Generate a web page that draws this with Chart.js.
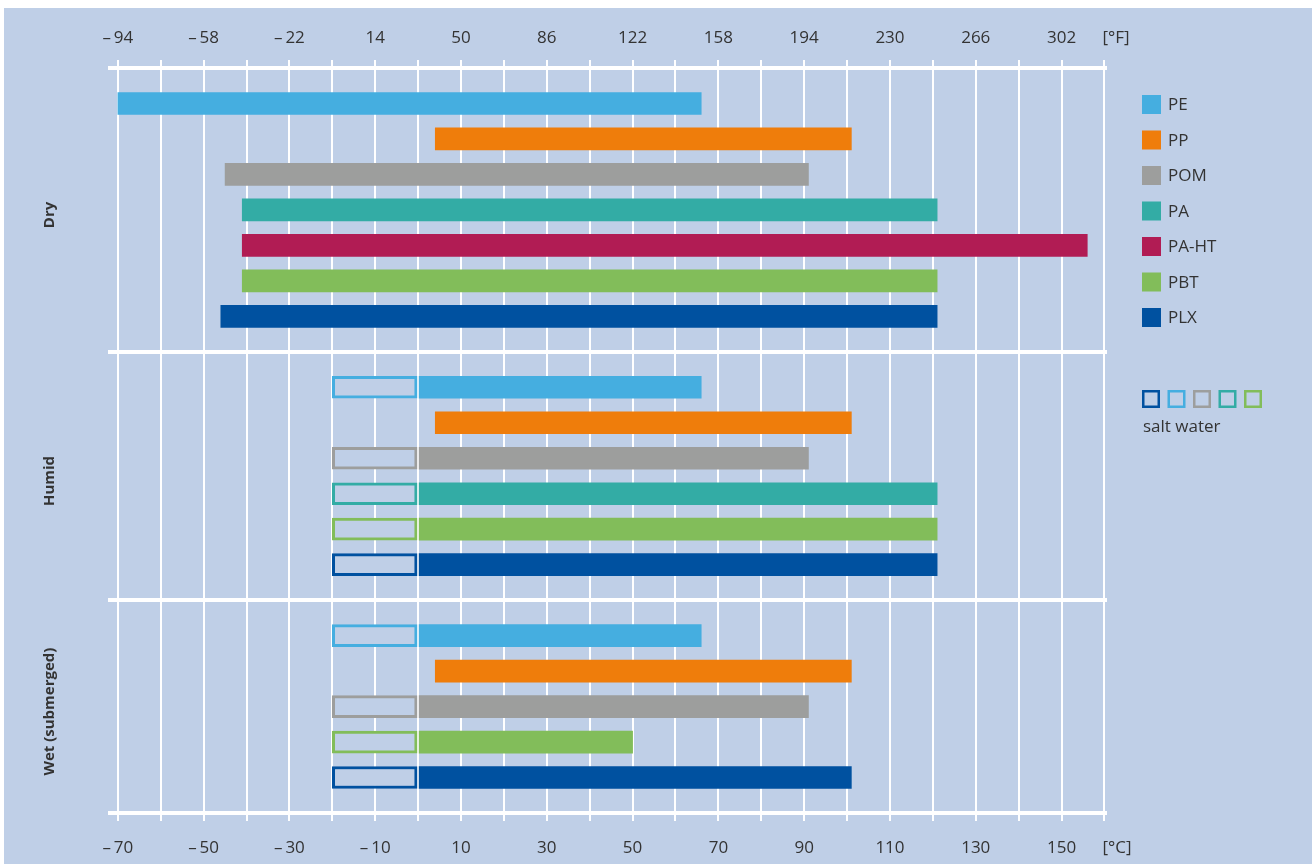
<!DOCTYPE html>
<html lang="en">
<head>
    <meta charset="UTF-8">
    <title>Operating temperature ranges</title>
    <script src="https://cdn.jsdelivr.net/npm/chart.js"></script>
    <style>
        html, body {
            margin: 0;
            padding: 0;
            background-color: #fff;
        }
        #wrap {
            position: absolute;
            left: 4px;
            top: 8px;
            width: 1308px;
            height: 856px;
            background-color: #bfcfe7;
        }
    </style>
</head>
<body>
    <div id="wrap"><canvas id="tempChart" width="1308" height="856"></canvas></div>

    <script>
        // Materials and their colours
        const materials = ['PE', 'PP', 'POM', 'PA', 'PA-HT', 'PBT', 'PLX'];
        const colors = ['#45aee0', '#ef7d0b', '#9d9e9d', '#33aca5', '#b11c54', '#82bd5a', '#0051a0'];

        // Temperature ranges in °C, one list per condition
        const dryMaterials = ['PE', 'PP', 'POM', 'PA', 'PA-HT', 'PBT', 'PLX'];
        const dryMin = [-70, 4, -45, -41, -41, -41, -46];
        const dryMax = [66, 101, 91, 121, 156, 121, 121];

        const humidMaterials = ['PE', 'PP', 'POM', 'PA', 'PBT', 'PLX'];
        const humidMin = [0, 4, 0, 0, 0, 0];
        const humidMax = [66, 101, 91, 121, 121, 121];
        const humidSaltMin = [-20, null, -20, -20, -20, -20];

        const wetMaterials = ['PE', 'PP', 'POM', 'PBT', 'PLX'];
        const wetMin = [0, 4, 0, 0, 0];
        const wetMax = [66, 101, 91, 50, 101];
        const wetSaltMin = [-20, null, -20, -20, -20];

        // salt water extension ends where the normal range starts
        const saltMax = 0;

        // Axis ticks
        const gridValues = [-70, -60, -50, -40, -30, -20, -10, 0, 10, 20, 30, 40, 50, 60, 70, 80, 90, 100, 110, 120, 130, 140, 150, 160];
        const celsiusLabels = [-70, -50, -30, -10, 10, 30, 50, 70, 90, 110, 130, 150];
        const fahrenheitLabels = [-94, -58, -22, 14, 50, 86, 122, 158, 194, 230, 266, 302];
        const saltLegendOrder = ['PLX', 'PE', 'POM', 'PA', 'PBT'];

        const bgColor = '#bfcfe7';
        const textColor = '#333';

        const groups = [
            { name: 'Dry', materials: dryMaterials, min: dryMin, max: dryMax, salt: [] },
            { name: 'Humid', materials: humidMaterials, min: humidMin, max: humidMax, salt: humidSaltMin },
            { name: 'Wet (submerged)', materials: wetMaterials, min: wetMin, max: wetMax, salt: wetSaltMin }
        ];

        // One category row per bar, with an empty row at every divider line
        const rowLabels = [''];
        groups.forEach(g => {
            g.first = rowLabels.length;
            g.materials.forEach(m => rowLabels.push(g.name + ' ' + m));
            g.last = rowLabels.length - 1;
            rowLabels.push('');
        });

        function emptyRows() {
            return rowLabels.map(() => null);
        }

        const solidSets = materials.map((m, i) => {
            const data = emptyRows();
            groups.forEach(g => {
                const k = g.materials.indexOf(m);
                if (k >= 0) data[g.first + k] = [g.min[k], g.max[k]];
            });
            return { label: m, data, backgroundColor: colors[i], borderWidth: 0 };
        });

        const saltSets = materials.map((m, i) => {
            const data = emptyRows();
            groups.forEach(g => {
                const k = g.materials.indexOf(m);
                if (k >= 0 && g.salt[k] != null) data[g.first + k] = [g.salt[k], saltMax];
            });
            return {
                label: m + ' salt water',
                data,
                backgroundColor: bgColor,
                borderColor: colors[i],
                borderWidth: 3,
                borderSkipped: false
            };
        });

        function fmt(v) {
            return v < 0 ? '\u2013\u2009' + Math.abs(v) : String(v);
        }

        // Unit labels, condition names and the legend
        const decorations = {
            id: 'decorations',
            afterDraw(chart) {
                const { ctx, chartArea, scales } = chart;
                ctx.save();
                ctx.fillStyle = textColor;
                ctx.textBaseline = 'middle';

                ctx.font = '17px "Open Sans"';
                ctx.textAlign = 'left';
                const ux = scales.x.getPixelForValue(160) - 2;
                ctx.fillText('[°F]', ux, chartArea.top - 30);
                ctx.fillText('[°C]', ux, chartArea.bottom + 35);

                ctx.font = 'bold 15px "Open Sans"';
                ctx.textAlign = 'center';
                groups.forEach(g => {
                    const y = (scales.y.getPixelForValue(g.first) + scales.y.getPixelForValue(g.last)) / 2;
                    ctx.save();
                    ctx.translate(46, y + 5);
                    ctx.rotate(-Math.PI / 2);
                    ctx.fillText(g.name, 0, 0);
                    ctx.restore();
                });

                // solid entries
                ctx.font = '17px "Open Sans"';
                ctx.textAlign = 'left';
                materials.forEach((m, i) => {
                    const cy = 96.5 + i * 35.5;
                    ctx.fillStyle = colors[i];
                    ctx.fillRect(1138, cy - 9.5, 19, 19);
                    ctx.fillStyle = textColor;
                    ctx.fillText(m, 1164, cy + 1);
                });

                // salt water entries
                ctx.lineWidth = 2.5;
                saltLegendOrder.forEach((m, i) => {
                    const x = 1138 + i * 25.5;
                    ctx.strokeStyle = colors[materials.indexOf(m)];
                    ctx.strokeRect(x + 1.25, 382 + 1.25, 15.5, 15.5);
                });
                ctx.fillStyle = textColor;
                ctx.fillText('salt water', 1139, 419);
                ctx.restore();
            }
        };

        Chart.defaults.font.family = '"Open Sans", sans-serif';

        const sharedX = {
            type: 'linear',
            min: -72.3,
            max: 160.6,
            afterBuildTicks: axis => { axis.ticks = gridValues.map(v => ({ value: v })); },
            border: { display: false }
        };

        new Chart(document.getElementById('tempChart'), {
            type: 'bar',
            data: {
                labels: rowLabels,
                datasets: [...saltSets, ...solidSets]
            },
            options: {
                indexAxis: 'y',
                responsive: false,
                animation: false,
                layout: { padding: { left: 104, right: 205, top: 0, bottom: 0 } },
                datasets: { bar: { grouped: false, barThickness: 22 } },
                plugins: {
                    legend: { display: false },
                    tooltip: { enabled: false }
                },
                scales: {
                    y: {
                        type: 'category',
                        offset: false,
                        afterFit: axis => { axis.width = 0; },
                        ticks: { display: false },
                        border: { display: false },
                        grid: {
                            offset: false,
                            drawTicks: false,
                            lineWidth: 4,
                            color: c => rowLabels[c.index] === '' ? '#fff' : 'rgba(0,0,0,0)'
                        }
                    },
                    x: {
                        ...sharedX,
                        position: 'bottom',
                        afterFit: axis => { axis.height = 51; },
                        ticks: {
                            autoSkip: false,
                            maxRotation: 0,
                            minRotation: 0,
                            padding: 17,
                            color: textColor,
                            font: { size: 17 },
                            callback: v => {
                                const k = celsiusLabels.indexOf(v);
                                return k < 0 ? '' : fmt(celsiusLabels[k]);
                            }
                        },
                        grid: { color: '#fff', lineWidth: 2, tickLength: 8 }
                    },
                    x2: {
                        ...sharedX,
                        position: 'top',
                        afterFit: axis => { axis.height = 60; },
                        ticks: {
                            autoSkip: false,
                            maxRotation: 0,
                            minRotation: 0,
                            padding: 12,
                            color: textColor,
                            font: { size: 17 },
                            callback: v => {
                                const k = celsiusLabels.indexOf(v);
                                return k < 0 ? '' : fmt(fahrenheitLabels[k]);
                            }
                        },
                        grid: { color: '#fff', lineWidth: 2, tickLength: 8, drawOnChartArea: false }
                    }
                }
            },
            plugins: [decorations]
        });
    </script>
</body>
</html>
